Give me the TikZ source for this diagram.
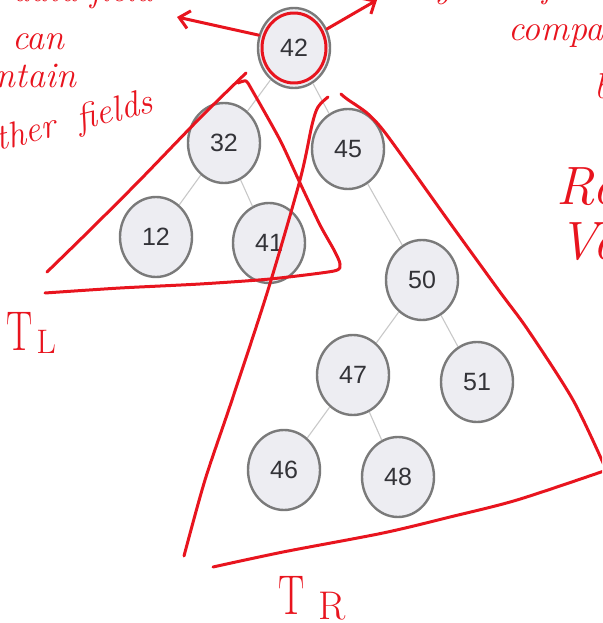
\documentclass[tikz,border=0pt]{standalone}
\usepackage{fontspec}
\usepackage{graphicx}
\setsansfont{Liberation Sans}
\usetikzlibrary{arrows.meta,shapes.geometric}
\definecolor{keyF}{HTML}{EDEDF2}
\definecolor{keyD}{HTML}{7A7A7A}
\definecolor{keyT}{HTML}{333338}
\definecolor{linkC}{HTML}{C8C8C8}
\definecolor{inkR}{HTML}{E8141E}
\tikzset{
  bst/.style={ellipse, draw=keyD, fill=keyF, line width=2.4pt, minimum width=72pt, minimum height=80pt,
              inner sep=0pt, font=\sffamily\fontsize{25}{25}\selectfont, text=keyT},
  link/.style={draw=linkC, line width=1.1pt},
  ink/.style={draw=inkR, line width=3pt, line cap=round, line join=round},
  tip/.style={-{Straight Barb[length=10pt,width=18pt,line width=3pt]}},
  hw/.style={text=inkR, inner sep=0pt, font=\fontsize{36}{40}\selectfont\itshape},
  hwbig/.style={hw, font=\fontsize{54}{56}\selectfont\itshape},
  tlab/.style={text=inkR, inner sep=0pt, font=\fontsize{56}{56}\selectfont},
}
% a handwritten T with its index
\newcommand\tsub[4]{\scalebox{0.7}[1]{T}\hspace{#2}\raisebox{#3}{\fontsize{#4}{#4}\selectfont #1}}

\begin{document}
\begin{tikzpicture}[x=1pt, y=-1pt]
\useasboundingbox (0,0) rectangle (602,623);
\clip (0,0) rectangle (602,623);
% the tree
\node[bst] (k42) at (294,48)  {42};
\node[bst] (k32) at (224,143) {32};
\node[bst] (k45) at (348,149) {45};
\node[bst] (k12) at (156,237) {12};
\node[bst] (k41) at (269,243) {41};
\node[bst] (k50) at (422,280) {50};
\node[bst] (k47) at (353,375) {47};
\node[bst] (k51) at (477,382) {51};
\node[bst] (k46) at (284,470) {46};
\node[bst] (k48) at (398,477) {48};
\foreach \a/\b in {42/32,42/45,32/12,32/41,45/50,50/47,50/51,47/46,47/48}
  \draw[link] (k\a) -- (k\b);
% notes round the root
\draw[ink] (k42.center) ellipse [x radius=32pt, y radius=35pt];
\coordinate (toL) at (177,17);
\coordinate (toR) at (377,0);
\draw[ink, tip] (k42.160) -- (toL);
\draw[ink, tip] (k42.30) -- (toR);
\node[hw, anchor=base east] (nData) at (154,2) {data field};
\node[hw, anchor=base west] (nCan) at (12,50) {can};
\node[hw, anchor=base east] (nCont) at (76,88) {contain};
\node[hw, anchor=base east, rotate=14] (nOther) at (155,112) {other\hspace{10pt} fields};
\node[hw, anchor=base west] (nKey) at (402,-2) {key used for};
\node[hw, anchor=base west] (nComp) at (508,41) {comparison};
\node[hw, anchor=base west] (nBet) at (594,99) {between};
\node[hwbig, anchor=base west] (nRoot) at (556,204) {Root};
\node[hwbig, anchor=base west] (nVal) at (558,259) {Value};
% left subtree
\draw[ink] plot[smooth] coordinates {(246,73) (200,118) (140,180) (90,230) (47,272)};
\draw[ink] plot[smooth, tension=0.4] coordinates {(238,83) (246,81) (252,90) (280,140) (300,183) (320,225)
  (334,250) (340,264) (334,271) (270,279) (200,284) (120,288) (45,293)};
\node[tlab, anchor=base west] (tL) at (6,350) {\tsub{L}{4pt}{-3pt}{34}};
% right subtree
\draw[ink] plot[smooth] coordinates {(328,97) (318,107) (312,125) (300,180) (268,290) (232,400) (205,480) (184,556)};
\draw[ink] plot[smooth] coordinates {(341,94) (347,99) (367,113) (383,130) (410,167) (450,223) (500,292)
  (528,330) (573,400) (604,465)};
\draw[ink] plot[smooth] coordinates {(213,567) (283,552) (383,533) (450,517) (517,500) (604,471)};
\node[tlab, anchor=base west] (tR) at (278,614) {\tsub{R}{14pt}{-5pt}{40}};
\end{tikzpicture}
\end{document}
